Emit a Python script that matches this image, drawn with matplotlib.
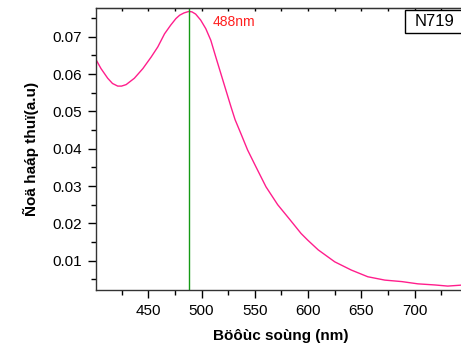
import matplotlib as mpl
mpl.use('Agg')
import matplotlib.pyplot as plt
from matplotlib.ticker import MultipleLocator
from matplotlib.patches import Rectangle

# absorption spectrum
buoc_song = [401, 405.7, 412, 416.5, 421.4, 425, 429.3, 437, 445, 452.8, 459,
             465.3, 471, 476, 479.5, 483.5, 488, 491, 494.5, 499.2, 504, 508.7,
             513.4, 518.1, 522.9, 527.6, 531.5, 536.9, 543.2, 551, 560.5, 571.5,
             582.4, 593.4, 599.7, 609.5, 625, 640.5, 656, 672, 688, 703, 719,
             731, 746]
do_hap_thu = [0.0639, 0.0615, 0.0589, 0.0575, 0.0568, 0.0568, 0.0572, 0.0589,
              0.0615, 0.0646, 0.0673, 0.0708, 0.0731, 0.0749, 0.0758, 0.0764,
              0.0768, 0.0767, 0.0761, 0.0745, 0.0722, 0.0691, 0.0646, 0.0602,
              0.0557, 0.0513, 0.0478, 0.0441, 0.0397, 0.0352, 0.0298, 0.0250,
              0.0212, 0.0173, 0.0155, 0.0129, 0.0097, 0.0075, 0.0057, 0.0048,
              0.0044, 0.0038, 0.0035, 0.0032, 0.0035]
dinh = 488
xt = [450, 500, 550, 600, 650, 700]
yt = [0.01, 0.02, 0.03, 0.04, 0.05, 0.06, 0.07]

plt.rcParams['font.family'] = ['Liberation Sans', 'DejaVu Sans']

fig = plt.figure(figsize=(4.61, 3.55), dpi=100)
ax = fig.add_axes([0.2082, 0.1831, 0.800, 0.7930])

ax.plot(buoc_song, do_hap_thu, color='#ff1e8c', lw=1.0)
ax.axvline(dinh, color='#159a15', lw=1.0)
ax.text(510, 0.0739, '%dnm' % dinh, color='#ff2020', fontsize=10, va='center')

ax.set_xlim(401, 747)
ax.set_ylim(0.00215, 0.0776)
ax.set_xticks(xt)
ax.set_yticks(yt)
ax.set_yticklabels(['%.2f' % v for v in yt])
ax.xaxis.set_minor_locator(MultipleLocator(25))
ax.yaxis.set_minor_locator(MultipleLocator(0.005))
ax.tick_params(which='major', direction='out', length=6, width=1, labelsize=11, pad=4)
ax.tick_params(which='minor', direction='out', length=3.5, width=1)
for s in ax.spines.values():
    s.set_linewidth(1.0)
    s.set_color('#333333')
ax.spines['right'].set_visible(False)

# small inward ticks on the top spine
top = ax.secondary_xaxis('top')
top.set_xticks(xt)
top.xaxis.set_minor_locator(MultipleLocator(25))
top.tick_params(which='both', direction='in', length=2.5, width=1, labeltop=False)

ax.set_xlabel('Böôùc soùng (nm)', fontsize=11, fontweight='bold', labelpad=8)
ax.set_ylabel('Ñoä haáp thuï(a.u)', fontsize=11, fontweight='bold', labelpad=10)

# N719 label box, running off the right edge
fig.patches.append(Rectangle((405 / 461, 1 - 33 / 355), 0.2, 23 / 355,
                             transform=fig.transFigure, fc='white', ec='black', lw=1))
fig.text(415 / 461, 1 - 22 / 355, 'N719', fontsize=12, va='center', ha='left')

fig.savefig('out.png', dpi=100)
